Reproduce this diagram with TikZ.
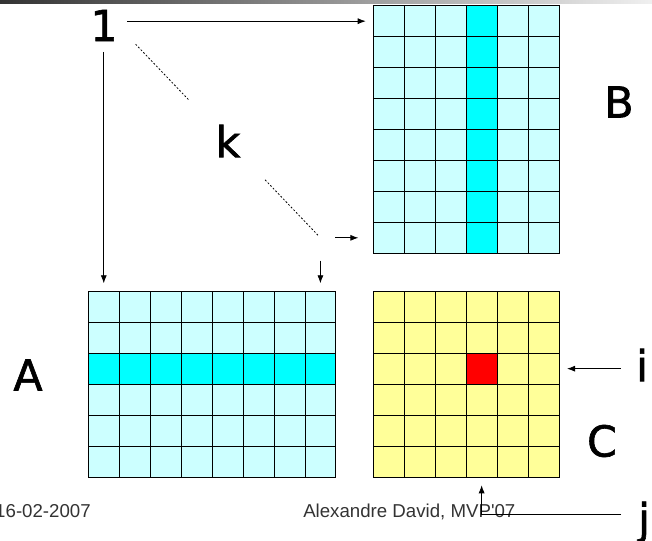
\documentclass[tikz,border=0pt]{standalone}
\usepackage{fontspec}
\setmainfont{DejaVu Sans}
\newfontfamily\labelfont[FakeBold=1.5]{DejaVu Sans}
\newfontfamily\footfont{Liberation Sans}
\usetikzlibrary{arrows.meta,calc}

\definecolor{lightcyan}{HTML}{CCFFFF}
\definecolor{brightcyan}{HTML}{00FFFF}
\definecolor{paleyellow}{HTML}{FFFF99}
\definecolor{footgray}{HTML}{333333}

\tikzset{
	cell/.style={draw=black, line width=0.65pt, minimum size=23.2pt, inner sep=0pt, outer sep=0pt},
	lbl/.style={inner sep=0pt, font=\labelfont\fontsize{32}{32}\selectfont},
	foot/.style={inner sep=0pt, text=footgray, font=\footfont\fontsize{14}{14}\selectfont},
	arr/.style={-{Latex[length=6pt,width=4.5pt]}, line width=0.6pt},
	dots/.style={line width=0.6pt, dash pattern=on 1.4pt off 1.4pt},
}

\begin{document}
\begin{tikzpicture}[x=0.75pt,y=0.75pt,yscale=-1,xscale=1]
		% Fix the canvas at 652 x 540
		\useasboundingbox (0,0) rectangle (652,540);

		% Draw the gradient bar along the top
		\shade[left color=footgray, right color=black!6] (0,0) rectangle (652,3);

		% Matrix B: 8 rows, 6 columns, column 4 highlighted
		\foreach \r in {1,...,8}
		\foreach \c in {1,...,6}{
			\ifnum\c=4 \def\cellcol{brightcyan}\else\def\cellcol{lightcyan}\fi
			\node[cell, fill=\cellcol] (B-\r-\c) at ({373.3+(\c-0.5)*30.95},{5.7+(\r-0.5)*30.95}) {};
		}

		% Matrix A: 6 rows, 8 columns, row 3 highlighted
		\foreach \r in {1,...,6}
		\foreach \c in {1,...,8}{
			\ifnum\r=3 \def\cellcol{brightcyan}\else\def\cellcol{lightcyan}\fi
			\node[cell, fill=\cellcol] (A-\r-\c) at ({88.3+(\c-0.5)*30.95},{291.3+(\r-0.5)*30.95}) {};
		}

		% Matrix C: 6 rows, 6 columns, cell (3,4) in red
		\foreach \r in {1,...,6}
		\foreach \c in {1,...,6}{
			\def\cellcol{paleyellow}
			\ifnum\r=3 \ifnum\c=4 \def\cellcol{red}\fi\fi
			\node[cell, fill=\cellcol] (C-\r-\c) at ({373.3+(\c-0.5)*30.95},{291.3+(\r-0.5)*30.95}) {};
		}

		% The labels
		\node[lbl] (one) at (104,25.5) {1};
		\node[lbl] (k) at (228,141) {k};
		\node[lbl] (labB) at (619,102) {B};
		\node[lbl] (labA) at (28,375) {A};
		\node[lbl] (labC) at (602,441) {C};
		\node[lbl] (i) at (642,365) {i};
		\node[lbl, anchor=base] (j) at (644,534) {j};

		% The footer texts
		\node[foot, anchor=base east] (date) at (91,517) {16-02-2007};
		\node[foot, anchor=base west] (author) at (303,517) {Alexandre David, MVP'07};

		% Arrows from 1 to the first row of B and the first column of A
		\draw[arr, shorten <=7pt, shorten >=5.7pt] (one.east |- B-1-1.west) -- (B-1-1.west);
		\draw[arr, shorten <=8pt, shorten >=6pt] (one.south -| A-1-1.north) -- (A-1-1.north);

		% Dotted diagonal through k, broken round the label
		\coordinate (corner) at (A-1-8.north |- B-8-1.west);
		\draw[dots, shorten >=29pt] ($(k)!-1!(corner)$) -- (k);
		\draw[dots, shorten <=26.6pt, shorten >=1.5pt] (k) -- (corner);

		% Short arrows to the last row of B and the last column of A
		\draw[arr, shorten <=11.3pt, shorten >=11.2pt] (corner) -- (B-8-1.west);
		\draw[arr, shorten <=17pt, shorten >=6pt] (corner) -- (A-1-8.north);

		% Arrow from i to row 3 of C
		\draw[arr, shorten <=11.3pt, shorten >=6pt] (i.west |- C-3-6.east) -- (C-3-6.east);

		% Arrow from j to column 4 of C
		\coordinate (jfoot) at (621,514.5);
		\draw[arr, line width=0.5pt, shorten >=6.2pt] (jfoot) -| (C-6-4.south);
	\end{tikzpicture}
\end{document}
